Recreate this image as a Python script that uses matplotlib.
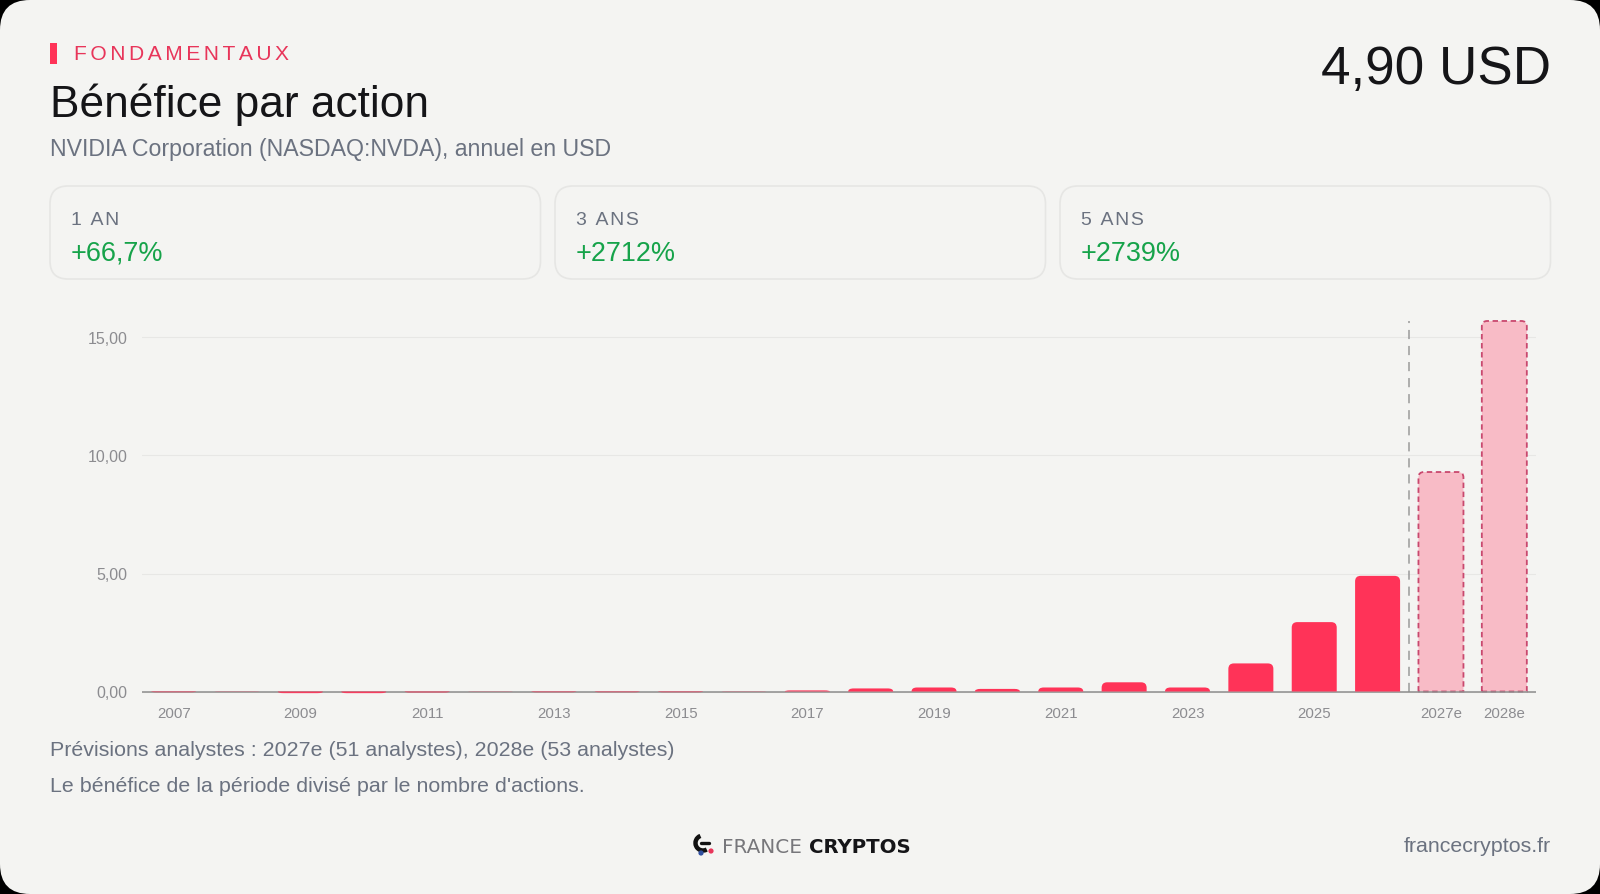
import matplotlib
matplotlib.use('Agg')
import matplotlib.pyplot as plt
import matplotlib.patches as mpatches
from matplotlib.path import Path

plt.rcParams['font.family'] = ['Liberation Sans', 'DejaVu Sans']

W, H = 1600, 894
HAIR = '\u200a'

years = ['2007', '2008', '2009', '2010', '2011', '2012', '2013', '2014', '2015', '2016', '2017',
         '2018', '2019', '2020', '2021', '2022', '2023', '2024', '2025', '2026', '2027e', '2028e']
eps = [-0.03, 0.01, -0.07, -0.07, -0.04, -0.01, -0.03, -0.03, -0.03, -0.01, 0.05,
       0.13, 0.17, 0.11, 0.17, 0.39, 0.17, 1.19, 2.94, 4.90, 9.30, 15.70]
estimates = ['2027e', '2028e']
xtick_labels = ['2007', '2009', '2011', '2013', '2015', '2017', '2019', '2021', '2023', '2025', '2027e', '2028e']
ytick_values = [0, 5, 10, 15]
ytick_labels = ['0,00', '5,00', '10,00', '15,00']

cards = ['1 AN', '3 ANS', '5 ANS']
card_values = ['+66,7%', '+2712%', '+2739%']

RED = '#ff3358'
GREY = '#6b7280'
LABEL = '#8c8c90'
BG = '#f4f4f2'


def px(size):
    return size * 0.72


def spaced(s, n=1):
    return (HAIR * n).join(s)


def rounded_bar(x, h, w, rx, ry):
    # bar with rounded corners at its free end, in data units
    ry = min(ry, abs(h))
    s = 1 if h >= 0 else -1
    l, r = x - w / 2, x + w / 2
    verts = [(l, 0), (l, h - s * ry), (l, h), (l + rx, h), (r - rx, h), (r, h), (r, h - s * ry), (r, 0), (l, 0)]
    codes = [Path.MOVETO, Path.LINETO, Path.CURVE3, Path.CURVE3, Path.LINETO, Path.CURVE3, Path.CURVE3,
             Path.LINETO, Path.CLOSEPOLY]
    return Path(verts, codes)


fig = plt.figure(figsize=(W / 100, H / 100), dpi=100, facecolor='black')

# page layer, in pixels
bg = fig.add_axes([0, 0, 1, 1])
bg.set_xlim(0, W)
bg.set_ylim(H, 0)
bg.axis('off')
bg.add_patch(mpatches.FancyBboxPatch((0, 0), W, H, boxstyle='round,pad=0,rounding_size=30',
                                     fc=BG, ec='none'))

bg.add_patch(mpatches.Rectangle((50, 43), 7, 21, fc=RED, ec='none'))
bg.text(74.5, 60, spaced('FONDAMENTAUX', 2), fontsize=px(21), color='#e8355a', va='baseline')
bg.text(49.5, 117, 'Bénéfice par action', fontsize=px(44.3), color='#151518', va='baseline')
bg.text(50, 156, 'NVIDIA Corporation (NASDAQ:NVDA), annuel en USD', fontsize=px(23.1), color=GREY, va='baseline')
bg.text(1551, 84, '4,90 USD', fontsize=px(53), color='#151518', ha='right', va='baseline')

card_x = [50, 555, 1060]
for x0, lab, val in zip(card_x, cards, card_values):
    bg.add_patch(mpatches.FancyBboxPatch((x0, 186), 490.5, 93, boxstyle='round,pad=0,rounding_size=18',
                                         fc=BG, ec='#e6e6e4', lw=1.2))
    bg.text(x0 + 21, 225, spaced(lab), fontsize=px(19.5), color=GREY, va='baseline')
    bg.text(x0 + 21, 261, val, fontsize=px(27), color='#16a34a', va='baseline')

bg.text(50, 755.5, 'Prévisions analystes : 2027e (51 analystes), 2028e (53 analystes)',
        fontsize=px(21.4), color=GREY, va='baseline')
bg.text(50, 792.5, "Le bénéfice de la période divisé par le nombre d'actions.",
        fontsize=px(21.4), color=GREY, va='baseline')
bg.text(1551, 852, 'francecryptos.fr', fontsize=px(21.4), color=GREY, ha='right', va='baseline')

# logo
bg.add_patch(mpatches.Arc((703, 843), 15, 15, theta1=60, theta2=250, color='#111111', lw=3.2))
bg.plot([701, 709], [843, 843], color='#111111', lw=2.4, solid_capstyle='round')
bg.add_patch(mpatches.Circle((701, 853), 2.6, fc='#2f4f9f', ec='none'))
bg.add_patch(mpatches.Circle((711, 851), 2.6, fc='#e8355a', ec='none'))
bg.text(722, 853, 'FRANCE', fontsize=px(20), color='#77777b', family='DejaVu Sans', va='baseline')
bg.text(809, 853, 'CRYPTOS', fontsize=px(19.8), color='#151518', family='DejaVu Sans', weight='bold',
        va='baseline')

# chart layer
left, right, top, bottom = 142, 1536, 318, 700
zero_y, unit = 691.5, 23.6
ax = fig.add_axes([left / W, 1 - bottom / H, (right - left) / W, (bottom - top) / H])
ax.patch.set_alpha(0)
ax.set_xlim(-0.5, len(years) - 0.5)
ax.set_ylim((zero_y - bottom) / unit, (zero_y - top) / unit)

for s in ax.spines.values():
    s.set_visible(False)

positions = list(range(len(years)))
ax.set_yticks(ytick_values)
ax.set_yticklabels(ytick_labels, fontsize=px(16), color=LABEL)
ax.set_xticks([years.index(y) for y in xtick_labels])
ax.set_xticklabels(xtick_labels, fontsize=px(15), color=LABEL)
ax.tick_params(length=0)
ax.tick_params(axis='y', pad=14.5 * 0.72)
ax.tick_params(axis='x', pad=5.3)
ax.yaxis.grid(True, color='#e7e7e5', lw=0.8)
ax.set_axisbelow(True)
ax.axhline(0, color='#8d8d8d', lw=1.1, zorder=4)

x_unit = (right - left) / len(years)
bar_w = 45 / x_unit
rad_x, rad_y = 5.5 / x_unit, 5.5 / unit
for pos, year, val in zip(positions, years, eps):
    path = rounded_bar(pos, val, bar_w, rad_x, rad_y)
    if year in estimates:
        patch = mpatches.PathPatch(path, fc='#f8bbc6', ec='#c9486e', lw=1.3, ls=(0, (3, 2)), zorder=3)
    else:
        patch = mpatches.PathPatch(path, fc=RED, ec='none', alpha=0.9 if abs(val) < 0.1 else 1, zorder=5)
    ax.add_patch(patch)

split = (years.index('2026') + years.index('2027e')) / 2
ax.plot([split, split], [0, (zero_y - 321) / unit], color='#9a9a9a', lw=1.1, ls=(0, (6, 4.5)), zorder=2)

fig.savefig('out.png', dpi=100, facecolor=fig.get_facecolor())
